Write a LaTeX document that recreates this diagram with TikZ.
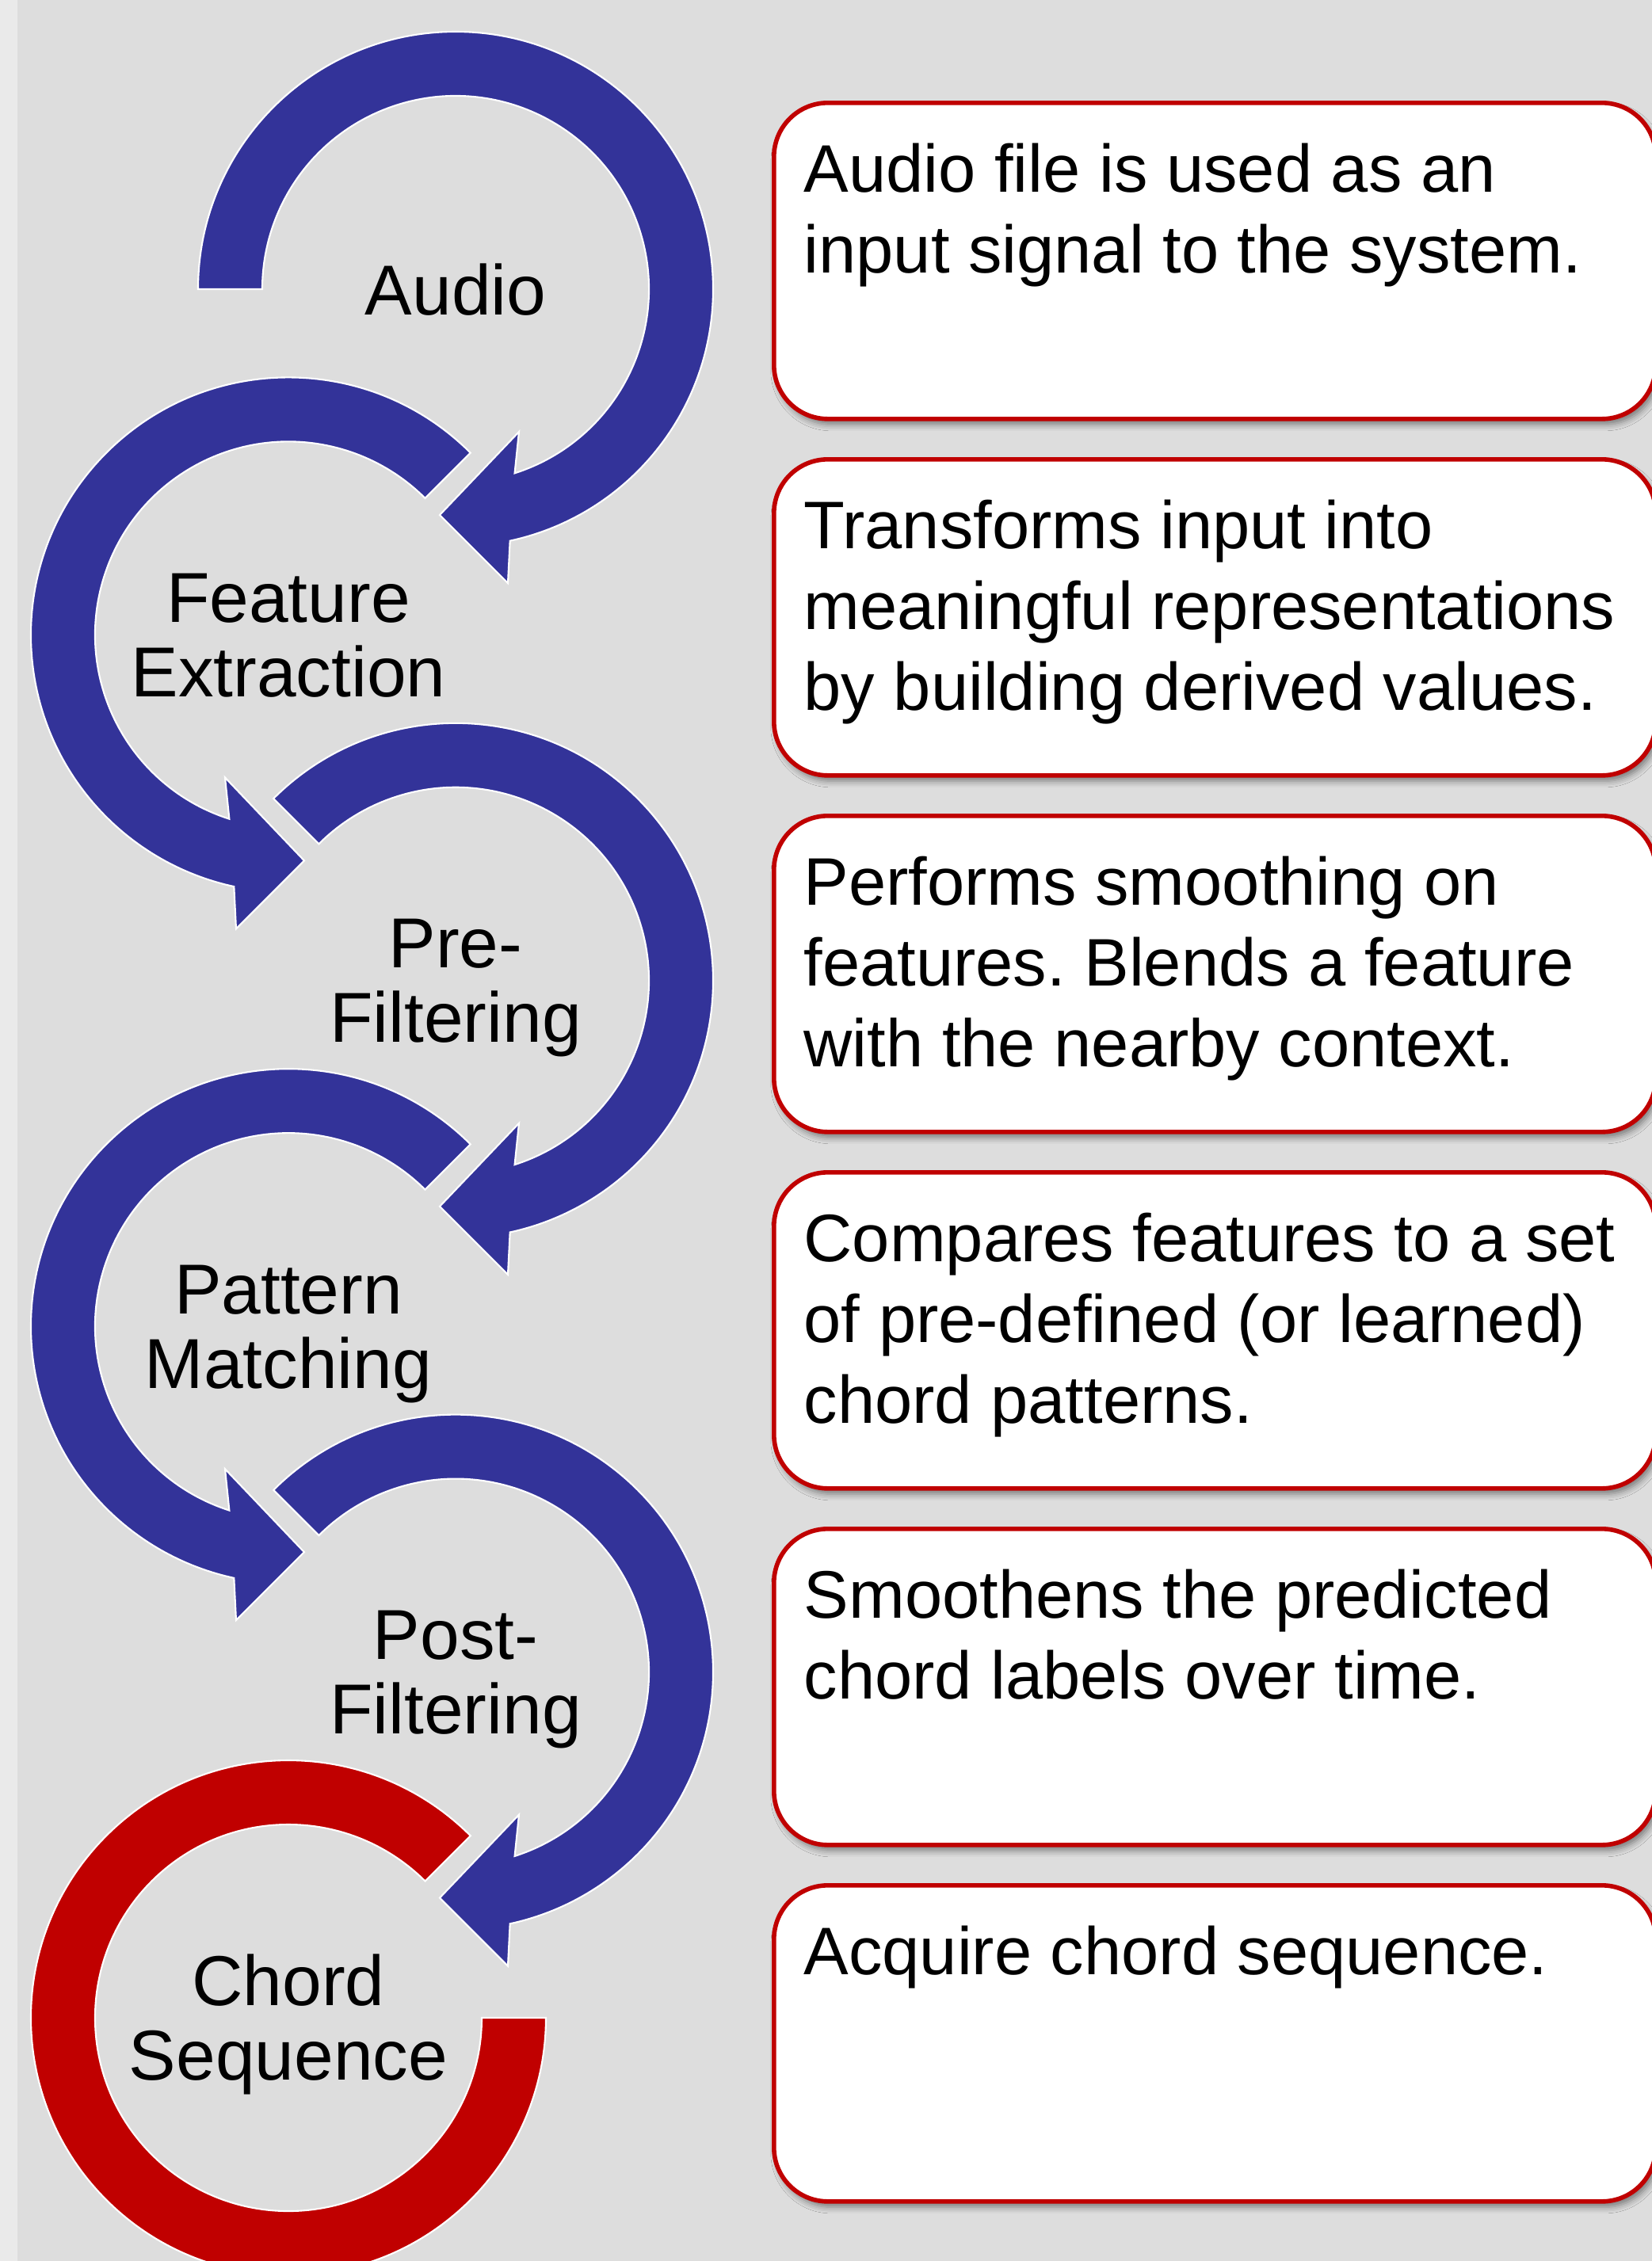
\documentclass[tikz,border=0pt]{standalone}
\usepackage{fontspec}
\setmainfont{Liberation Sans}
\usetikzlibrary{shadows.blur}
\definecolor{pagegray}{HTML}{DDDDDD}
\definecolor{stripgray}{HTML}{EAEAEA}
\definecolor{arcblue}{HTML}{333399}
\definecolor{arcred}{HTML}{C00000}
\frenchspacing

\begin{document}
\begin{tikzpicture}[
  x=1cm, y=1cm,
  band/.style={fill=#1, draw=white, line width=0.6pt, line join=miter},
  stage/.style={font=\fontsize{25.4}{26.75}\selectfont, anchor=base, inner sep=0pt},
  note/.style={draw=arcred, line width=1.6pt, fill=white, rounded corners=0.68cm,
    minimum width=11.13cm, minimum height=3.99cm, anchor=north west, inner sep=0pt,
    blur shadow={shadow xshift=0.04cm, shadow yshift=-0.07cm,
      shadow blur radius=0.08cm, shadow opacity=45}},
  notetext/.style={font=\fontsize{24.15}{29.02}\selectfont, anchor=base west, inner sep=0pt},
  % ring segment opening to the left, arrowhead at its lower end
  pics/rightloop/.style={code={
    \path[band=arcblue] (#1:3.25) arc[start angle=#1, end angle=-77.8, radius=3.25]
      -- (0.66,-3.71) -- (-0.20,-2.85) -- (0.80,-1.80)
      -- (-72.2:2.44) arc[start angle=-72.2, end angle=#1, radius=2.44] -- cycle;
  }},
  % mirrored ring segment, arrowhead at its lower end
  pics/leftloop/.style={code={
    \path[band=arcblue] (#1:3.25) arc[start angle=#1, end angle=257.8, radius=3.25]
      -- (-0.66,-3.71) -- (0.20,-2.85) -- (-0.80,-1.80)
      -- (252.2:2.44) arc[start angle=252.2, end angle=#1, radius=2.44] -- cycle;
  }},
]
\clip (0,0) rectangle (20.85,-28.54);
\useasboundingbox (0,0) rectangle (20.85,-28.54);
\fill[pagegray] (0,0) rectangle (20.85,-28.54);
\fill[stripgray] (0,0) rectangle (0.22,-28.54);

% process loops
\pic (loopaudio)   at (5.75,-3.650)  {rightloop=180};
\pic (loopfeature) at (3.64,-8.014)  {leftloop=45};
\pic (looppre)     at (5.75,-12.378) {rightloop=135};
\pic (looppattern) at (3.64,-16.742) {leftloop=45};
\pic (looppost)    at (5.75,-21.106) {rightloop=135};
\begin{scope}[shift={(3.64,-25.47)}]
  \path[band=arcred] (45:3.25) arc[start angle=45, end angle=360, radius=3.25]
    -- (0:2.44) arc[start angle=360, end angle=45, radius=2.44] -- cycle;
\end{scope}

% stage names
\node[stage] (naudio)   at (5.75,-3.97)   {Audio};
\node[stage] (nfeature) at (3.64,-7.854)  {\begin{tabular}[t]{@{}c@{}}Feature\\Extraction\end{tabular}};
\node[stage] (npre)     at (5.75,-12.218) {\begin{tabular}[t]{@{}c@{}}Pre-\\Filtering\end{tabular}};
\node[stage] (npattern) at (3.64,-16.582) {\begin{tabular}[t]{@{}c@{}}Pattern\\Matching\end{tabular}};
\node[stage] (npost)    at (5.75,-20.946) {\begin{tabular}[t]{@{}c@{}}Post-\\Filtering\end{tabular}};
\node[stage] (nchord)   at (3.64,-25.31)  {\begin{tabular}[t]{@{}c@{}}Chord\\Sequence\end{tabular}};

% descriptions
\node[note] (b1) at (9.74,-1.27)  {};
\node[note] (b2) at (9.74,-5.77)  {};
\node[note] (b3) at (9.74,-10.27) {};
\node[note] (b4) at (9.74,-14.77) {};
\node[note] (b5) at (9.74,-19.27) {};
\node[note] (b6) at (9.74,-23.77) {};

\node[notetext] (t1) at (10.14,-2.42)  {\begin{tabular}[t]{@{}l@{}}Audio file is used as an\\input signal to the system.\end{tabular}};
\node[notetext] (t2) at (10.14,-6.92)  {\begin{tabular}[t]{@{}l@{}}Transforms input into\\meaningful representations\\by building derived values.\end{tabular}};
\node[notetext] (t3) at (10.14,-11.42) {\begin{tabular}[t]{@{}l@{}}Performs smoothing on\\features. Blends a feature\\with the nearby context.\end{tabular}};
\node[notetext] (t4) at (10.14,-15.92) {\begin{tabular}[t]{@{}l@{}}Compares features to a set\\of pre-defined (or learned)\\chord patterns.\end{tabular}};
\node[notetext] (t5) at (10.14,-20.42) {\begin{tabular}[t]{@{}l@{}}Smoothens the predicted\\chord labels over time.\end{tabular}};
\node[notetext] (t6) at (10.14,-24.92) {\begin{tabular}[t]{@{}l@{}}Acquire chord sequence.\end{tabular}};
\end{tikzpicture}
\end{document}
